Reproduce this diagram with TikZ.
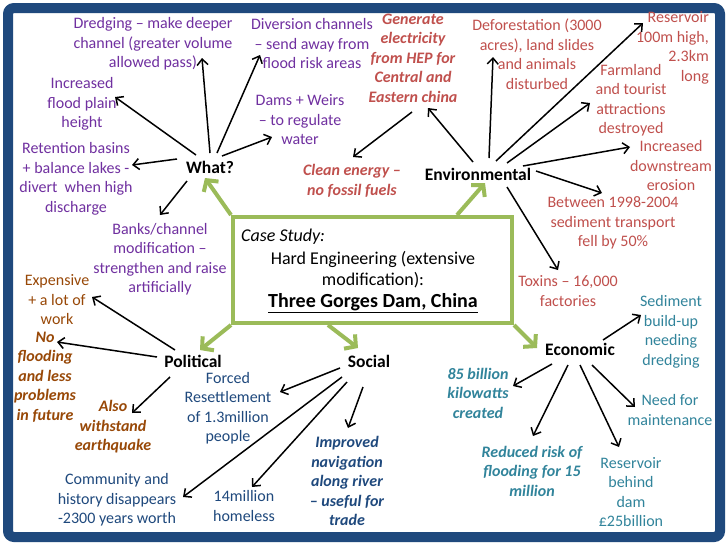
\documentclass[tikz,border=0pt]{standalone}
\usepackage{fontspec}
\setmainfont{Carlito}
\usetikzlibrary{arrows.meta}
\definecolor{frm}{HTML}{1F497D}
\definecolor{grn}{HTML}{9BBB59}
\definecolor{purp}{HTML}{7030A0}
\definecolor{redt}{HTML}{C0504D}
\definecolor{brwn}{HTML}{984807}
\definecolor{dblu}{HTML}{1F497D}
\definecolor{teal}{HTML}{31849B}
\begin{document}
\begin{tikzpicture}[x=1pt,y=-1pt,
  txt/.style={align=center, inner sep=0pt, font=\fontsize{16}{19.5}\selectfont},
  bi/.style={txt, font=\fontsize{16}{19.5}\selectfont\bfseries\itshape},
  hub/.style={inner sep=0pt, font=\fontsize{17.5}{21}\selectfont\bfseries},
  arr/.style={line width=1.5pt, -{Straight Barb[length=6pt,width=11pt]}},
  garr/.style={draw=grn, line width=4pt, -{Straight Barb[length=8pt,width=18pt]}}]
\useasboundingbox (0,0) rectangle (728,546);
\fill[white] (0,0) rectangle (728,546);
\draw[frm, line width=10pt, rounded corners=6pt] (8,8) rectangle (720,537);

% central box
\node[draw=grn, line width=4pt, minimum width=279pt, minimum height=106pt, inner sep=0pt] (cs) at (372.5,270) {};
\node[anchor=west, inner sep=0pt, font=\fontsize{18}{21}\selectfont\itshape] (cst) at (241,237) {Case Study:};
\node[align=center, inner sep=0pt, font=\fontsize{18}{21}\selectfont] (hard) at (373,270) {Hard Engineering (extensive\\modification):};
\node[inner sep=0pt, font=\fontsize{20}{24}\selectfont\bfseries] (tgd) at (373,303) {\underline{Three Gorges Dam, China}};

% hubs
\node[hub] (what) at (210,167) {What?};
\node[hub] (env) at (478,174) {Environmental};
\node[hub] (pol) at (193,361) {Political};
\node[hub] (soc) at (369,361) {Social};
\node[hub] (eco) at (580,349) {Economic};

% What? texts
\node[txt, purp] (dredge) at (153,44) {Dredging – make deeper\\channel (greater volume\\allowed pass)};
\node[txt, purp] (flood) at (82,104) {Increased\\flood plain\\height};
\node[txt, purp] (retent) at (76,179) {Retention basins\\+ balance lakes -\\divert\ \ when high\\discharge};
\node[txt, purp] (banks) at (160,259) {Banks/channel\\modification –\\strengthen and raise\\artificially};
\node[txt, purp] (divers) at (312,44) {Diversion channels\\– send away from\\flood risk areas};
\node[txt, purp] (dams) at (300,120) {Dams + Weirs\\– to regulate\\water};

% Environmental texts
\node[bi, redt] (gen) at (413,58) {Generate\\electricity\\from HEP for\\Central and\\Eastern china};
\node[bi, redt] (clean) at (352,181) {Clean energy –\\no fossil fuels};
\node[txt, redt] (defor) at (537,54) {Deforestation (3000\\acres), land slides\\and animals\\disturbed};
\node[txt, redt, align=right, anchor=east] (resv) at (709,48) {Reservoir\\100m high,\\2.3km\\long};
\node[txt, redt] (farm) at (631,100) {Farmland\\and tourist\\attractions\\destroyed};
\node[txt, redt] (downs) at (671,166) {Increased\\downstream\\erosion};
\node[txt, redt] (betw) at (613,223) {Between 1998-2004\\sediment transport\\fell by 50\%};
\node[txt, redt] (toxin) at (568,291) {Toxins – 16,000\\factories};

% Political texts
\node[txt, brwn] (expen) at (57,300) {Expensive\\+ a lot of\\work};
\node[bi, brwn] (noflood) at (45,377) {No\\flooding\\and less\\problems\\in future};
\node[bi, brwn] (also) at (113,427) {Also\\withstand\\earthquake};

% Social texts
\node[txt, dblu] (forced) at (228,408) {Forced\\Resettlement\\of 1.3million\\people};
\node[txt, dblu] (commun) at (117,500) {Community and\\history disappears\\-2300 years worth};
\node[txt, dblu] (homel) at (244,506) {14million\\homeless};
\node[bi, dblu] (navig) at (347,481) {Improved\\navigation\\along river\\– useful for\\trade};

% Economic texts
\node[bi, teal] (kw) at (478,393) {85 billion\\kilowatts\\created};
\node[bi, teal] (redu) at (532,471) {Reduced risk of\\flooding for 15\\million};
\node[txt, teal] (resdam) at (631,492) {Reservoir\\behind\\dam\\£25billion};
\node[txt, teal] (need) at (670,410) {Need for\\maintenance};
\node[txt, teal] (sedim) at (671,332) {Sediment\\build-up\\needing\\dredging};

% arrow tip coordinates
\coordinate (hDredge) at (202,58);
\coordinate (hFlood) at (115,97);
\coordinate (hRetent) at (132,165);
\coordinate (hBanks) at (160,215);
\coordinate (hDivers) at (260,55);
\coordinate (hDams) at (272,137);
\coordinate (hGen) at (428,108);
\coordinate (hClean) at (353,157);
\coordinate (hDefor) at (493,57);
\coordinate (hResv) at (643,23);
\coordinate (hFarm) at (590,103);
\coordinate (hDowns) at (630,147);
\coordinate (hBetw) at (602,193);
\coordinate (hToxin) at (558,270);
\coordinate (hExpen) at (92,297);
\coordinate (hNoflood) at (57,342);
\coordinate (hAlso) at (132,413);
\coordinate (hForced) at (280,392);
\coordinate (hCommun) at (183,497);
\coordinate (hHomel) at (252,487);
\coordinate (hNavig) at (348,428);
\coordinate (hSedim) at (641,315);
\coordinate (hKw) at (513,386);
\coordinate (hRedu) at (533,436);
\coordinate (hResdam) at (619,447);
\coordinate (hNeed) at (635,407);
\coordinate (gW) at (205,178);
\coordinate (gE) at (485,183);
\coordinate (gP) at (200,350);
\coordinate (gS) at (358,348);
\coordinate (gC) at (537,348);

% green arrows from the box
\draw[garr] (cs.north west) -- (gW);
\draw[garr] ([xshift=-57pt]cs.north east) -- (gE);
\draw[garr] (cs.south west) -- (gP);
\draw[garr] ([xshift=97pt]cs.south west) -- (gS);
\draw[garr] (cs.south east) -- (gC);

% What? arrows
\draw[arr] ([shift={(0,-14)}]what.center) -- (hDredge);
\draw[arr] ([shift={(-14,-12)}]what.center) -- (hFlood);
\draw[arr] ([shift={(-33,-8)}]what.center) -- (hRetent);
\draw[arr] ([shift={(-23,14)}]what.center) -- (hBanks);
\draw[arr] ([shift={(7,-14)}]what.center) -- (hDivers);
\draw[arr] ([shift={(12,-11)}]what.center) -- (hDams);

% Environmental arrows
\draw[arr] ([shift={(-5,-12)}]env.center) -- (hGen);
\draw[arr] ([shift={(-1,54)}]gen.center) -- (hClean);
\draw[arr] ([shift={(11,-16)}]env.center) -- (hDefor);
\draw[arr] ([shift={(18,-13)}]env.center) -- (hResv);
\draw[arr] ([shift={(29,-11)}]env.center) -- (hFarm);
\draw[arr] ([shift={(45,-8)}]env.center) -- (hDowns);
\draw[arr] ([shift={(58,-3)}]env.center) -- (hBetw);
\draw[arr] ([shift={(29,13)}]env.center) -- (hToxin);

% Political arrows
\draw[arr] ([shift={(-18,-11)}]pol.center) -- (hExpen);
\draw[arr] ([shift={(-36,-4)}]pol.center) -- (hNoflood);
\draw[arr] ([shift={(-23,16)}]pol.center) -- (hAlso);

% Social arrows
\draw[arr] ([shift={(-29,7)}]soc.center) -- (hForced);
\draw[arr] ([shift={(-27,16)}]soc.center) -- (hCommun);
\draw[arr] ([shift={(-22,21)}]soc.center) -- (hHomel);
\draw[arr] ([shift={(-6,26)}]soc.center) -- (hNavig);

% Economic arrows
\draw[arr] ([shift={(23,-9)}]eco.center) -- (hSedim);
\draw[arr] ([shift={(-28,15)}]eco.center) -- (hKw);
\draw[arr] ([shift={(-12,16)}]eco.center) -- (hRedu);
\draw[arr] ([shift={(0,16)}]eco.center) -- (hResdam);
\draw[arr] ([shift={(12,16)}]eco.center) -- (hNeed);
\end{tikzpicture}
\end{document}
